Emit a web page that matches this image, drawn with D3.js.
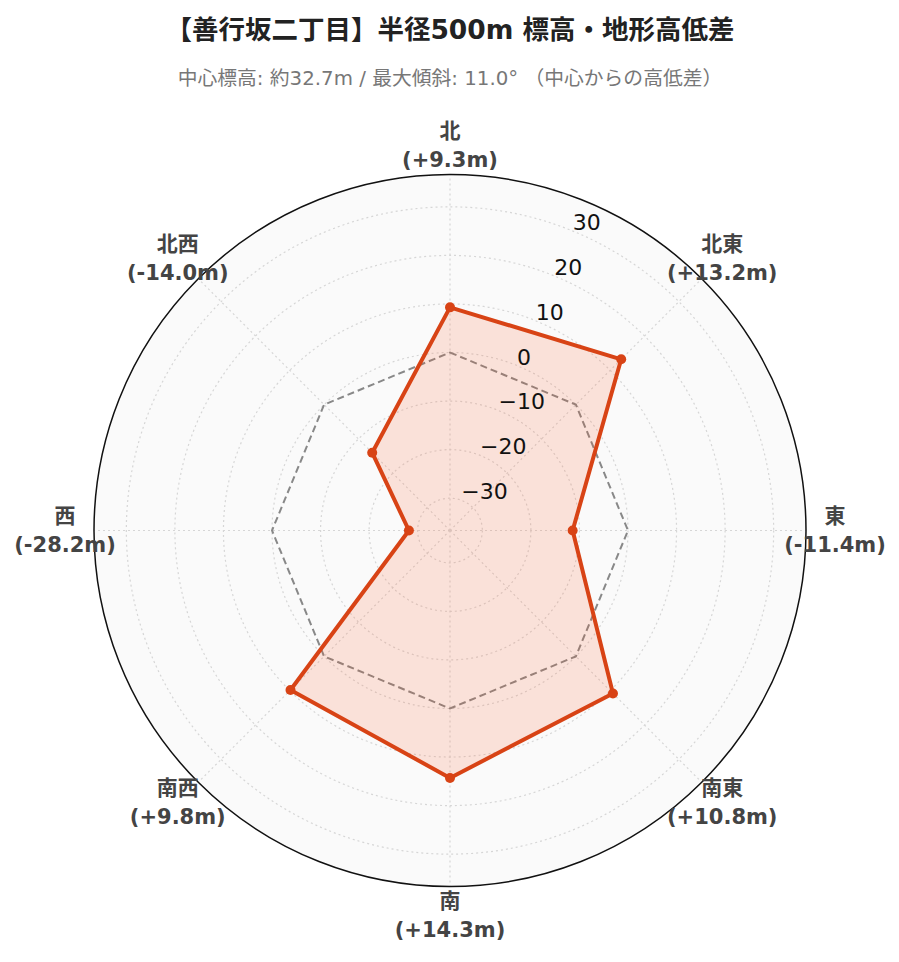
<!DOCTYPE html>
<html>
<head>
<meta charset="utf-8">
<script src="https://cdn.jsdelivr.net/npm/d3@7"></script>
<style>
  body { margin: 0; background: #fff; }
  text { font-family: "DejaVu Sans", "Noto Sans CJK JP", sans-serif; }
</style>
</head>
<body>
<svg id="chart" width="899" height="962"></svg>
<script>
var directions = ['北', '北東', '東', '南東', '南', '南西', '西', '北西'];
var diffs = [9.3, 13.2, -11.4, 10.8, 14.3, 9.8, -28.2, -14.0];
var baseline = [0, 0, 0, 0, 0, 0, 0, 0];
var radialTicks = [-30, -20, -10, 0, 10, 20, 30];
var title = '【善行坂二丁目】半径500m 標高・地形高低差';
var subtitle = '中心標高: 約32.7m / 最大傾斜: 11.0° （中心からの高低差）';

var svg = d3.select('#chart');
var cx = 450;
var cy = 530.5;
var R = 356;

var maxAbs = d3.max(diffs, function (d) { return Math.abs(d); }) * 1.3;

var r = d3.scaleLinear()
  .domain([-maxAbs, maxAbs])
  .range([0, R]);

var angle = d3.scalePoint()
  .domain(directions)
  .range([0, 2 * Math.PI * (directions.length - 1) / directions.length]);

function px(a, rad) { return cx + rad * Math.sin(a); }
function py(a, rad) { return cy - rad * Math.cos(a); }

// Titles
svg.append('text')
  .attr('x', cx).attr('y', 29)
  .attr('text-anchor', 'middle')
  .attr('dominant-baseline', 'central')
  .attr('font-size', 26.5).attr('font-weight', 'bold')
  .attr('fill', '#222')
  .text(title);

svg.append('text')
  .attr('x', cx).attr('y', 78)
  .attr('text-anchor', 'middle')
  .attr('dominant-baseline', 'central')
  .attr('font-size', 19.8)
  .attr('fill', '#777')
  .text(subtitle);

var g = svg.append('g');

// Background
g.append('circle')
  .attr('cx', cx).attr('cy', cy).attr('r', R)
  .attr('fill', '#fafafa');

// Grid circles
g.selectAll('circle.grid')
  .data(radialTicks)
  .enter().append('circle')
  .attr('class', 'grid')
  .attr('cx', cx).attr('cy', cy)
  .attr('r', function (d) { return r(d); })
  .attr('fill', 'none')
  .attr('stroke', '#d6d6d6')
  .attr('stroke-width', 1.2)
  .attr('stroke-dasharray', '2,3');

// Spokes
g.selectAll('line.spoke')
  .data(directions)
  .enter().append('line')
  .attr('class', 'spoke')
  .attr('x1', cx).attr('y1', cy)
  .attr('x2', function (d) { return px(angle(d), R); })
  .attr('y2', function (d) { return py(angle(d), R); })
  .attr('stroke', '#d6d6d6')
  .attr('stroke-width', 1.2)
  .attr('stroke-dasharray', '2,3');

var line = d3.lineRadial()
  .angle(function (d, i) { return angle(directions[i]); })
  .radius(function (d) { return r(d); })
  .curve(d3.curveLinearClosed);

// Zero reference
g.append('path')
  .attr('transform', 'translate(' + cx + ',' + cy + ')')
  .attr('d', line(baseline))
  .attr('fill', 'none')
  .attr('stroke', '#888')
  .attr('stroke-width', 2)
  .attr('stroke-dasharray', '7,4');

// Data shape
g.append('path')
  .attr('transform', 'translate(' + cx + ',' + cy + ')')
  .attr('d', line(diffs))
  .attr('fill', 'rgba(255,87,34,0.15)')
  .attr('stroke', '#d84315')
  .attr('stroke-width', 4)
  .attr('stroke-linejoin', 'round');

g.selectAll('circle.pt')
  .data(diffs)
  .enter().append('circle')
  .attr('class', 'pt')
  .attr('cx', function (d, i) { return px(angle(directions[i]), r(d)); })
  .attr('cy', function (d, i) { return py(angle(directions[i]), r(d)); })
  .attr('r', 5)
  .attr('fill', '#d84315');

// Outer ring
g.append('circle')
  .attr('cx', cx).attr('cy', cy).attr('r', R)
  .attr('fill', 'none')
  .attr('stroke', '#111')
  .attr('stroke-width', 1.5);

// Radial tick labels
var tickAngle = Math.PI / 8;
var fmt = d3.format('d');
g.selectAll('text.tick')
  .data(radialTicks)
  .enter().append('text')
  .attr('class', 'tick')
  .attr('x', function (d) { return px(tickAngle, r(d)) - 1; })
  .attr('y', function (d) { return py(tickAngle, r(d)) - 9; })
  .attr('dominant-baseline', 'central')
  .attr('font-size', 22)
  .attr('fill', '#111')
  .text(function (d) { return fmt(d); });

// Direction labels
function diffLabel(v) {
  return '(' + (v >= 0 ? '+' : '-') + Math.abs(v).toFixed(1) + 'm)';
}

var labels = g.selectAll('g.dir')
  .data(directions)
  .enter().append('g')
  .attr('class', 'dir')
  .attr('transform', function (d) {
    return 'translate(' + px(angle(d), R + 29) + ',' + py(angle(d), R + 29) + ')';
  });

labels.append('text')
  .attr('y', -14.5)
  .text(function (d) { return d; });

labels.append('text')
  .attr('y', 14.5)
  .text(function (d, i) { return diffLabel(diffs[i]); });

labels.selectAll('text')
  .attr('text-anchor', 'middle')
  .attr('dominant-baseline', 'central')
  .attr('font-size', 21)
  .attr('font-weight', 'bold')
  .attr('fill', '#444');
</script>
</body>
</html>
